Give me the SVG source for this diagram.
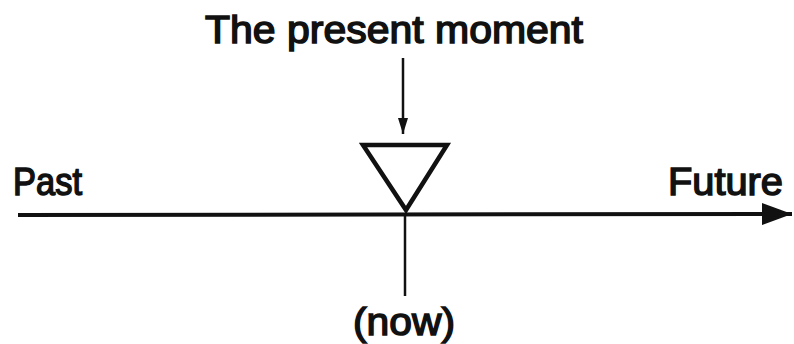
<svg xmlns="http://www.w3.org/2000/svg" width="794" height="344" viewBox="0 0 794 344">
<style>
text{font-family:"Liberation Sans",Arial,sans-serif;font-size:39px;fill:#111;stroke:#111;stroke-width:1.5;}
.ln{stroke:#111;fill:none;stroke-linecap:butt;}
</style>
<defs>
<marker id="ah" viewBox="0 0 16 10" refX="16" refY="5" markerWidth="16" markerHeight="10" markerUnits="userSpaceOnUse" orient="auto">
<path d="M0,0 L16,5 L0,10 Z" fill="#111"/>
</marker>
<marker id="big" viewBox="0 0 30 22" refX="30" refY="11" markerWidth="30" markerHeight="22" markerUnits="userSpaceOnUse" orient="auto">
<path d="M0,0 L30,11 L0,22 Z" fill="#111"/>
</marker>
</defs>
<rect width="794" height="344" fill="#fff"/>
<g id="connectors">
<line class="ln" x1="18" y1="215" x2="792" y2="214" stroke-width="4" marker-end="url(#big)"/>
<line class="ln" x1="403" y1="58" x2="403" y2="134" stroke-width="2.5" marker-end="url(#ah)"/>
<line class="ln" x1="405" y1="215" x2="405" y2="296" stroke-width="2.5"/>
</g>
<g id="present-marker">
<path class="ln" d="M363,145 L447,145 L406,210 Z" stroke-width="4.5" stroke-linejoin="miter"/>
</g>
<g id="title"><text x="205" y="43" textLength="378" lengthAdjust="spacingAndGlyphs">The present moment</text></g>
<g id="past"><text x="13" y="195" textLength="69" lengthAdjust="spacingAndGlyphs">Past</text></g>
<g id="future"><text x="668" y="195" textLength="115" lengthAdjust="spacingAndGlyphs">Future</text></g>
<g id="now"><text x="353" y="335" textLength="102" lengthAdjust="spacingAndGlyphs">(now)</text></g>
</svg>
